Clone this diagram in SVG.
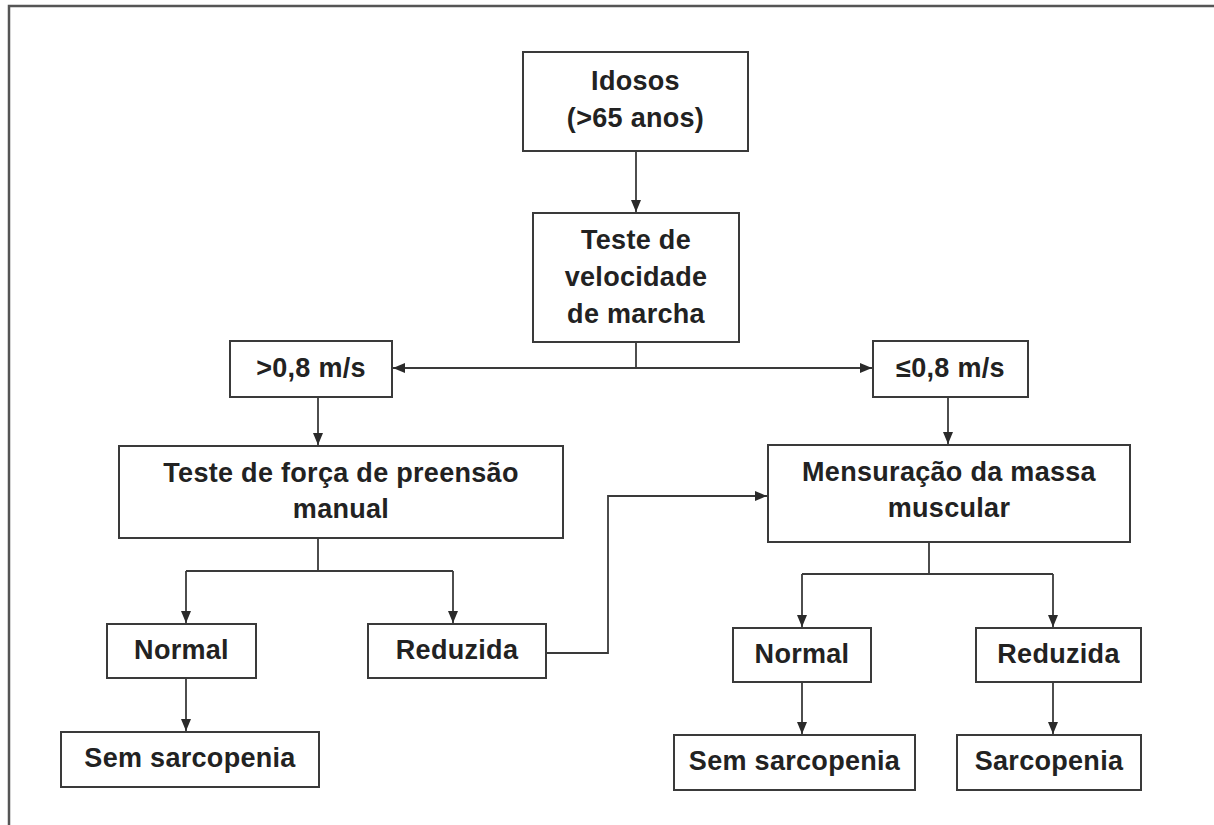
<svg xmlns="http://www.w3.org/2000/svg" width="1214" height="825" viewBox="0 0 1214 825">
<defs>
<style>
.box{fill:#fff;stroke:#3a3a3a;stroke-width:2}
.t{font-family:"Liberation Sans",Arial,sans-serif;font-size:27px;font-weight:bold;fill:#222;text-anchor:middle;letter-spacing:0.3px}
.c{fill:none;stroke:#3a3a3a;stroke-width:1.8}
.frame{fill:none;stroke:#555;stroke-width:2.5}
</style>
<marker id="ah" markerUnits="userSpaceOnUse" markerWidth="12" markerHeight="12" viewBox="0 0 12 12" refX="12" refY="6" orient="auto">
<path d="M0,1 L12,6 L0,11 Z" fill="#2a2a2a"/>
</marker>
</defs>
<rect width="1214" height="825" fill="#fff"/>
<path class="frame" d="M9,825 V6 H1214"/>
<g id="connectors">
<path class="c" d="M636,151 V212" marker-end="url(#ah)"/>
<path class="c" d="M636,342 V368"/>
<path class="c" d="M636,368 H393" marker-end="url(#ah)"/>
<path class="c" d="M636,368 H872" marker-end="url(#ah)"/>
<path class="c" d="M318,397 V445" marker-end="url(#ah)"/>
<path class="c" d="M948,397 V444" marker-end="url(#ah)"/>
<path class="c" d="M318,538 V571 M186,571 H453"/>
<path class="c" d="M186,571 V623" marker-end="url(#ah)"/>
<path class="c" d="M453,571 V623" marker-end="url(#ah)"/>
<path class="c" d="M546,653 H608 V496 H767" marker-end="url(#ah)"/>
<path class="c" d="M186,678 V731" marker-end="url(#ah)"/>
<path class="c" d="M929,542 V574 M802,574 H1053"/>
<path class="c" d="M802,574 V627" marker-end="url(#ah)"/>
<path class="c" d="M1053,574 V627" marker-end="url(#ah)"/>
<path class="c" d="M802,682 V734" marker-end="url(#ah)"/>
<path class="c" d="M1053,682 V734" marker-end="url(#ah)"/>
</g>
<g id="idosos">
<rect class="box" x="523" y="52" width="225" height="99"/>
<text class="t" x="635.5" y="90">Idosos</text>
<text class="t" x="635.5" y="127">(&gt;65 anos)</text>
</g>
<g id="velocidade">
<rect class="box" x="533" y="213" width="206" height="129"/>
<text class="t" x="636" y="249">Teste de</text>
<text class="t" x="636" y="286">velocidade</text>
<text class="t" x="636" y="323">de marcha</text>
</g>
<g id="maior08">
<rect class="box" x="230" y="341" width="162" height="56"/>
<text class="t" x="311" y="377">&gt;0,8 m/s</text>
</g>
<g id="menor08">
<rect class="box" x="873" y="341" width="155" height="56"/>
<text class="t" x="950.5" y="377">≤0,8 m/s</text>
</g>
<g id="forca">
<rect class="box" x="119" y="446" width="444" height="92"/>
<text class="t" x="341" y="482">Teste de força de preensão</text>
<text class="t" x="341" y="518">manual</text>
</g>
<g id="massa">
<rect class="box" x="768" y="445" width="362" height="97"/>
<text class="t" x="949" y="481">Mensuração da massa</text>
<text class="t" x="949" y="517">muscular</text>
</g>
<g id="normal1">
<rect class="box" x="107" y="624" width="149" height="54"/>
<text class="t" x="181.5" y="659">Normal</text>
</g>
<g id="reduzida1">
<rect class="box" x="368" y="624" width="178" height="54"/>
<text class="t" x="457" y="659">Reduzida</text>
</g>
<g id="sem1">
<rect class="box" x="61" y="732" width="258" height="55"/>
<text class="t" x="190" y="767">Sem sarcopenia</text>
</g>
<g id="normal2">
<rect class="box" x="733" y="628" width="138" height="54"/>
<text class="t" x="802" y="663">Normal</text>
</g>
<g id="reduzida2">
<rect class="box" x="976" y="628" width="165" height="54"/>
<text class="t" x="1058.5" y="663">Reduzida</text>
</g>
<g id="sem2">
<rect class="box" x="674" y="735" width="241" height="55"/>
<text class="t" x="794.5" y="770">Sem sarcopenia</text>
</g>
<g id="sarcopenia">
<rect class="box" x="957" y="735" width="184" height="55"/>
<text class="t" x="1049" y="770">Sarcopenia</text>
</g>
</svg>
